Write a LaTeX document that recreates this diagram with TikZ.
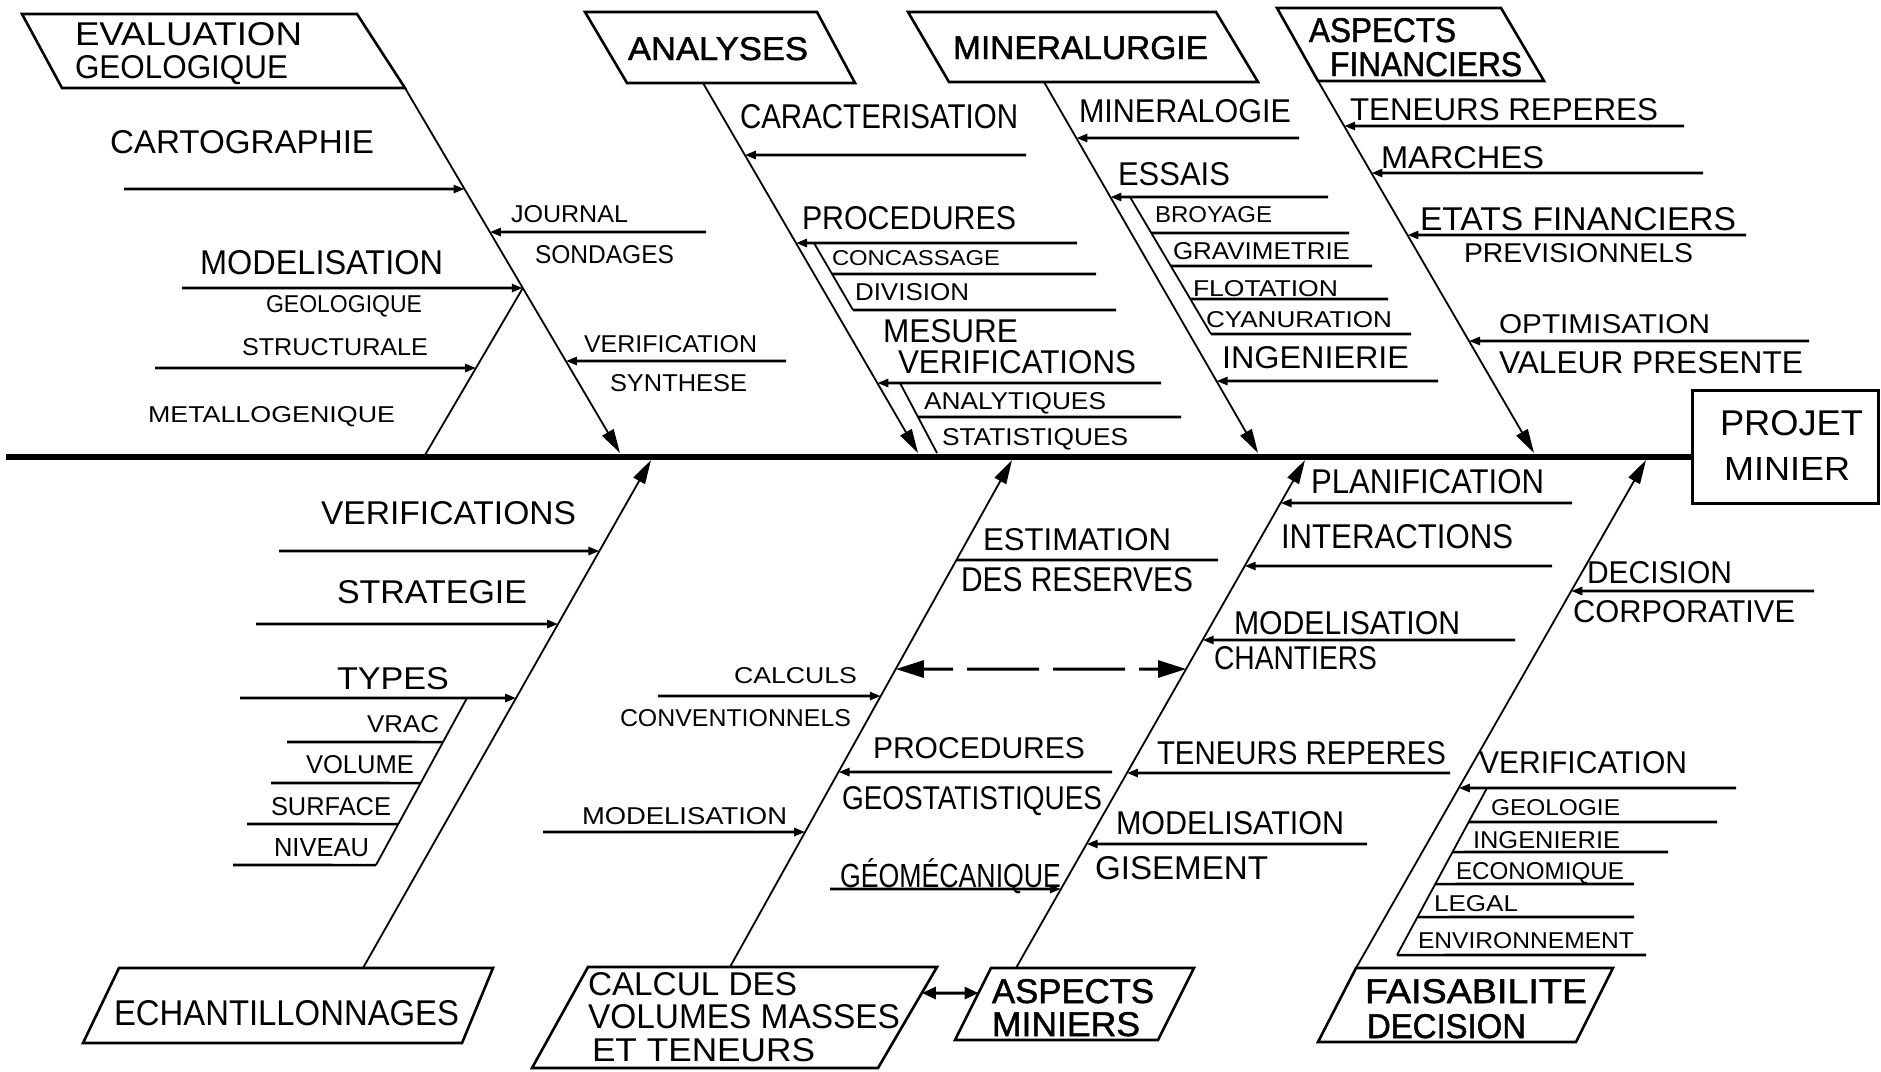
\documentclass[tikz,border=0pt]{standalone}
\usepackage{graphicx}
\usepackage{fontspec}
\setmainfont{Liberation Sans}
\newfontfamily\heavyfont{Liberation Sans}[FakeBold=1.4]
\usetikzlibrary{arrows.meta}

% text label: name, left x, right x, baseline y, cap height, text
\newcommand\lbl[6]{%
  \pgfmathsetmacro\lblw{#3-#2}%
  \node[lbl] (#1) at (#2,#4) {\resizebox{\lblw pt}{#5pt}{#6}};}
% horizontal arrow from (x,y) onto a bone: bone, x, y
\newcommand\twig[3]{\draw[twig] (#2,#3) -- (intersection of #1s--#1e and 0,#3--100,#3);}
% rung of a staircase: staircase, far x, y
\newcommand\rung[3]{\draw[rungline] (intersection of #1a--#1b and 0,#3--100,#3) -- (#2,#3);}

\begin{document}
\begin{tikzpicture}[x=1pt,y=-1pt,
  lbl/.style={inner sep=0pt, outer sep=0pt, anchor=base west},
  frame/.style={line width=2.6pt, line join=miter},
  bone/.style={line width=1.8pt, -{Triangle[length=24pt,width=13pt]}},
  twig/.style={line width=2.6pt, -{Triangle[length=11pt,width=8pt]}},
  rungline/.style={line width=2.6pt},
  rail/.style={line width=1.8pt},
  spine/.style={line width=6pt},
  goal/.style={draw, line width=3pt, minimum width=186pt, minimum height=113pt, inner sep=0pt},
  dashlink/.style={line width=3pt, dash pattern=on 72pt off 14pt, dash phase=42pt,
    {Triangle[length=28pt,width=17pt]}-{Triangle[length=28pt,width=17pt]}},
  boxlink/.style={line width=3pt, {Triangle[length=14pt,width=12pt]}-{Triangle[length=14pt,width=12pt]}}]

\useasboundingbox (0,0) rectangle (1881,1071);
\fill[white] (0,0) rectangle (1881,1071);

% ---------------- spine and goal ----------------
\node[goal] (projet) at (1785,446.5) {};
\coordinate (spineL) at (6,456.5);
\draw[spine] (spineL) -- (projet.west |- spineL);
\lbl{tProj}{1720}{1863}{435}{25}{PROJET}
\lbl{tMinr}{1724}{1850}{480}{23}{MINIER}

% ---------------- category boxes ----------------
\draw[frame] (22,14) -- (357,14) -- (405,88) -- (62,88) -- cycle;
\draw[frame] (585,12) -- (817,12) -- (855,83) -- (627,83) -- cycle;
\draw[frame] (908,12) -- (1216,12) -- (1258,82) -- (949,82) -- cycle;
\draw[frame] (1277,8) -- (1501,8) -- (1544,81) -- (1318,81) -- cycle;
\draw[frame] (119,968) -- (493,968) -- (462,1043) -- (83,1043) -- cycle;
\coordinate (c6a) at (937,967); \coordinate (c6b) at (878,1068);
\draw[frame] (588,967) -- (c6a) -- (c6b) -- (532,1068) -- cycle;
\coordinate (c7a) at (991,968); \coordinate (c7b) at (955,1040);
\draw[frame] (c7a) -- (1194,968) -- (1158,1040) -- (c7b) -- cycle;
\draw[frame] (1356,968) -- (1613,968) -- (1576,1042) -- (1318,1042) -- cycle;

\lbl{tEval}{75}{302}{45}{23}{EVALUATION}
\lbl{tGeol}{75}{288}{78}{23}{GEOLOGIQUE}
\lbl{tAnal}{628}{808}{60}{23}{\heavyfont ANALYSES}
\lbl{tMinl}{953}{1208}{59}{23}{\heavyfont MINERALURGIE}
\lbl{tAspF}{1309}{1456}{42}{24}{\heavyfont ASPECTS}
\lbl{tFin}{1330}{1522}{76}{24}{\heavyfont FINANCIERS}
\lbl{tEch}{114}{459}{1025}{25}{ECHANTILLONNAGES}
\lbl{tCalA}{588}{797}{995}{23}{CALCUL DES}
\lbl{tCalB}{588}{900}{1028}{24}{VOLUMES MASSES}
\lbl{tCalC}{592}{815}{1061}{23}{ET TENEURS}
\lbl{tAspM}{992}{1154}{1003}{24}{\heavyfont ASPECTS}
\lbl{tMin}{992}{1140}{1036}{24}{\heavyfont MINIERS}
\lbl{tFais}{1365}{1587}{1003}{24}{\heavyfont FAISABILITE}
\lbl{tDec}{1367}{1526}{1038}{24}{\heavyfont DECISION}

% link between the two lower boxes
\draw[boxlink] (intersection of c6a--c6b and 0,993--100,993) -- (intersection of c7a--c7b and 0,993--100,993);

% ---------------- bones ----------------
\coordinate (b1s) at (405,88);   \coordinate (b1e) at (620,453);
\coordinate (b2s) at (703,83);   \coordinate (b2e) at (918,453);
\coordinate (b3s) at (1044,82);  \coordinate (b3e) at (1258,453);
\coordinate (b4s) at (1318,81);  \coordinate (b4e) at (1534,453);
\coordinate (b5s) at (363,968);  \coordinate (b5e) at (651,460);
\coordinate (b6s) at (730,967);  \coordinate (b6e) at (1012,460);
\coordinate (b7s) at (1016,968); \coordinate (b7e) at (1305,460);
\coordinate (b8s) at (1356,968); \coordinate (b8e) at (1646,460);
\foreach \b in {b1,b2,b3,b4,b5,b6,b7,b8} \draw[bone] (\b s) -- (\b e);

% ---------------- EVALUATION GEOLOGIQUE ----------------
\coordinate (r1s) at (intersection of b1s--b1e and 0,288--100,288);
\coordinate (r1e) at (425,455);
\draw[rail] (r1s) -- (r1e);
\twig{b1}{124}{189}
\twig{b1}{706}{232}
\twig{b1}{182}{288}
\twig{b1}{786}{361}
\twig{r1}{155}{368}
\lbl{lCart}{110}{374}{153}{23}{CARTOGRAPHIE}
\lbl{lJour}{511}{628}{222}{17}{JOURNAL}
\lbl{lSond}{535}{674}{263}{18}{SONDAGES}
\lbl{lModA}{200}{443}{274}{24}{MODELISATION}
\lbl{lGeoA}{266}{422}{312}{17}{GEOLOGIQUE}
\lbl{lStru}{242}{428}{355}{17}{STRUCTURALE}
\lbl{lMeta}{148}{395}{422}{16}{METALLOGENIQUE}
\lbl{lVerA}{584}{757}{352}{17}{VERIFICATION}
\lbl{lSynt}{610}{747}{391}{17}{SYNTHESE}

% ---------------- ANALYSES ----------------
\twig{b2}{1026}{155}
\twig{b2}{1077}{243}
\twig{b2}{1161}{383}
\coordinate (s2a) at (814,243); \coordinate (s2b) at (853,310);
\draw[rail] (s2a) -- (s2b);
\rung{s2}{1096}{274}
\rung{s2}{1116}{310}
\coordinate (s3a) at (900,383); \coordinate (s3b) at (937,453);
\draw[rail] (s3a) -- (s3b);
\rung{s3}{1181}{417}
\lbl{lCara}{740}{1018}{128}{24}{CARACTERISATION}
\lbl{lProA}{802}{1016}{229}{23}{PROCEDURES}
\lbl{lConc}{832}{1000}{265}{15}{CONCASSAGE}
\lbl{lDivi}{855}{969}{300}{17}{DIVISION}
\lbl{lMesu}{883}{1018}{342}{23}{MESURE}
\lbl{lVerB}{898}{1136}{373}{23}{VERIFICATIONS}
\lbl{lAnat}{924}{1106}{409}{17}{ANALYTIQUES}
\lbl{lStat}{942}{1128}{445}{17}{STATISTIQUES}

% ---------------- MINERALURGIE ----------------
\twig{b3}{1299}{138}
\twig{b3}{1328}{197}
\twig{b3}{1438}{381}
\coordinate (s4a) at (1130,197); \coordinate (s4b) at (1211,334);
\draw[rail] (s4a) -- (s4b);
\rung{s4}{1349}{233}
\rung{s4}{1372}{266}
\rung{s4}{1388}{299}
\rung{s4}{1411}{334}
\lbl{lMinl}{1079}{1291}{122}{23}{MINERALOGIE}
\lbl{lEssa}{1118}{1230}{185}{23}{ESSAIS}
\lbl{lBroy}{1155}{1272}{222}{16}{BROYAGE}
\lbl{lGrav}{1173}{1350}{259}{17}{GRAVIMETRIE}
\lbl{lFlot}{1193}{1338}{296}{16}{FLOTATION}
\lbl{lCyan}{1206}{1392}{327}{16}{CYANURATION}
\lbl{lIngA}{1222}{1409}{368}{22}{INGENIERIE}

% ---------------- ASPECTS FINANCIERS ----------------
\twig{b4}{1684}{126}
\twig{b4}{1703}{173}
\twig{b4}{1746}{235}
\twig{b4}{1809}{341}
\lbl{lTenA}{1350}{1658}{120}{22}{TENEURS REPERES}
\lbl{lMarc}{1381}{1544}{168}{22}{MARCHES}
\lbl{lEtat}{1420}{1736}{230}{23}{ETATS FINANCIERS}
\lbl{lPrev}{1464}{1693}{262}{19}{PREVISIONNELS}
\lbl{lOpti}{1499}{1710}{333}{19}{OPTIMISATION}
\lbl{lVale}{1499}{1803}{373}{22}{VALEUR PRESENTE}

% ---------------- ECHANTILLONNAGES ----------------
\twig{b5}{279}{551}
\twig{b5}{256}{624}
\twig{b5}{240}{698}
\coordinate (s5a) at (467,698); \coordinate (s5b) at (376,865);
\draw[rail] (s5a) -- (s5b);
\rung{s5}{287}{742}
\rung{s5}{271}{783}
\rung{s5}{247}{824}
\rung{s5}{233}{865}
\lbl{lVerC}{321}{576}{524}{23}{VERIFICATIONS}
\lbl{lStra}{337}{527}{603}{23}{STRATEGIE}
\lbl{lType}{337}{449}{689}{22}{TYPES}
\lbl{lVrac}{367}{439}{732}{17}{VRAC}
\lbl{lVolu}{306}{414}{773}{18}{VOLUME}
\lbl{lSurf}{271}{391}{815}{18}{SURFACE}
\lbl{lNive}{274}{369}{856}{18}{NIVEAU}

% ---------------- CALCUL DES VOLUMES ----------------
\draw[rungline] (intersection of b6s--b6e and 0,560--100,560) -- (1218,560);
\twig{b6}{658}{696}
\twig{b6}{1112}{772}
\twig{b6}{543}{832}
\draw[dashlink] (intersection of b6s--b6e and 0,669--100,669) -- (intersection of b7s--b7e and 0,669--100,669);
\lbl{lEsti}{983}{1171}{550}{22}{ESTIMATION}
\lbl{lDesR}{961}{1193}{591}{24}{DES RESERVES}
\lbl{lCalc}{734}{857}{683}{16}{CALCULS}
\lbl{lConv}{620}{851}{726}{17}{CONVENTIONNELS}
\lbl{lProB}{873}{1085}{758}{21}{PROCEDURES}
\lbl{lGeos}{842}{1102}{809}{23}{GEOSTATISTIQUES}
\lbl{lModB}{582}{787}{824}{17}{MODELISATION}

% ---------------- ASPECTS MINIERS ----------------
\twig{b7}{1572}{503}
\twig{b7}{1552}{566}
\twig{b7}{1515}{640}
\twig{b7}{1450}{773}
\twig{b7}{1367}{844}
\twig{b7}{830}{889}
\lbl{lPlan}{1311}{1544}{493}{24}{PLANIFICATION}
\lbl{lInte}{1281}{1513}{548}{24}{INTERACTIONS}
\lbl{lModC}{1234}{1460}{634}{23}{MODELISATION}
\lbl{lChan}{1214}{1377}{669}{23}{CHANTIERS}
\lbl{lTenB}{1157}{1446}{764}{23}{TENEURS REPERES}
\lbl{lModD}{1116}{1344}{834}{23}{MODELISATION}
\lbl{lGise}{1095}{1268}{879}{23}{GISEMENT}
\lbl{lGeom}{840}{1061}{887}{29}{GÉOMÉCANIQUE}

% ---------------- FAISABILITE DECISION ----------------
\twig{b8}{1814}{591}
\twig{b8}{1736}{788}
\coordinate (s6a) at (1487,788); \coordinate (s6b) at (1397,955);
\draw[rail] (s6a) -- (s6b);
\rung{s6}{1717}{822}
\rung{s6}{1668}{852}
\rung{s6}{1634}{884}
\rung{s6}{1634}{917}
\rung{s6}{1646}{955}
\lbl{lDecC}{1587}{1732}{583}{22}{DECISION}
\lbl{lCorp}{1573}{1795}{622}{22}{CORPORATIVE}
\lbl{lVerD}{1479}{1687}{773}{22}{VERIFICATION}
\lbl{lGeoB}{1491}{1620}{815}{16}{GEOLOGIE}
\lbl{lIngB}{1473}{1620}{848}{17}{INGENIERIE}
\lbl{lEcon}{1456}{1624}{879}{17}{ECONOMIQUE}
\lbl{lLega}{1434}{1518}{911}{16}{LEGAL}
\lbl{lEnvi}{1418}{1634}{948}{16}{ENVIRONNEMENT}
\end{tikzpicture}
\end{document}
